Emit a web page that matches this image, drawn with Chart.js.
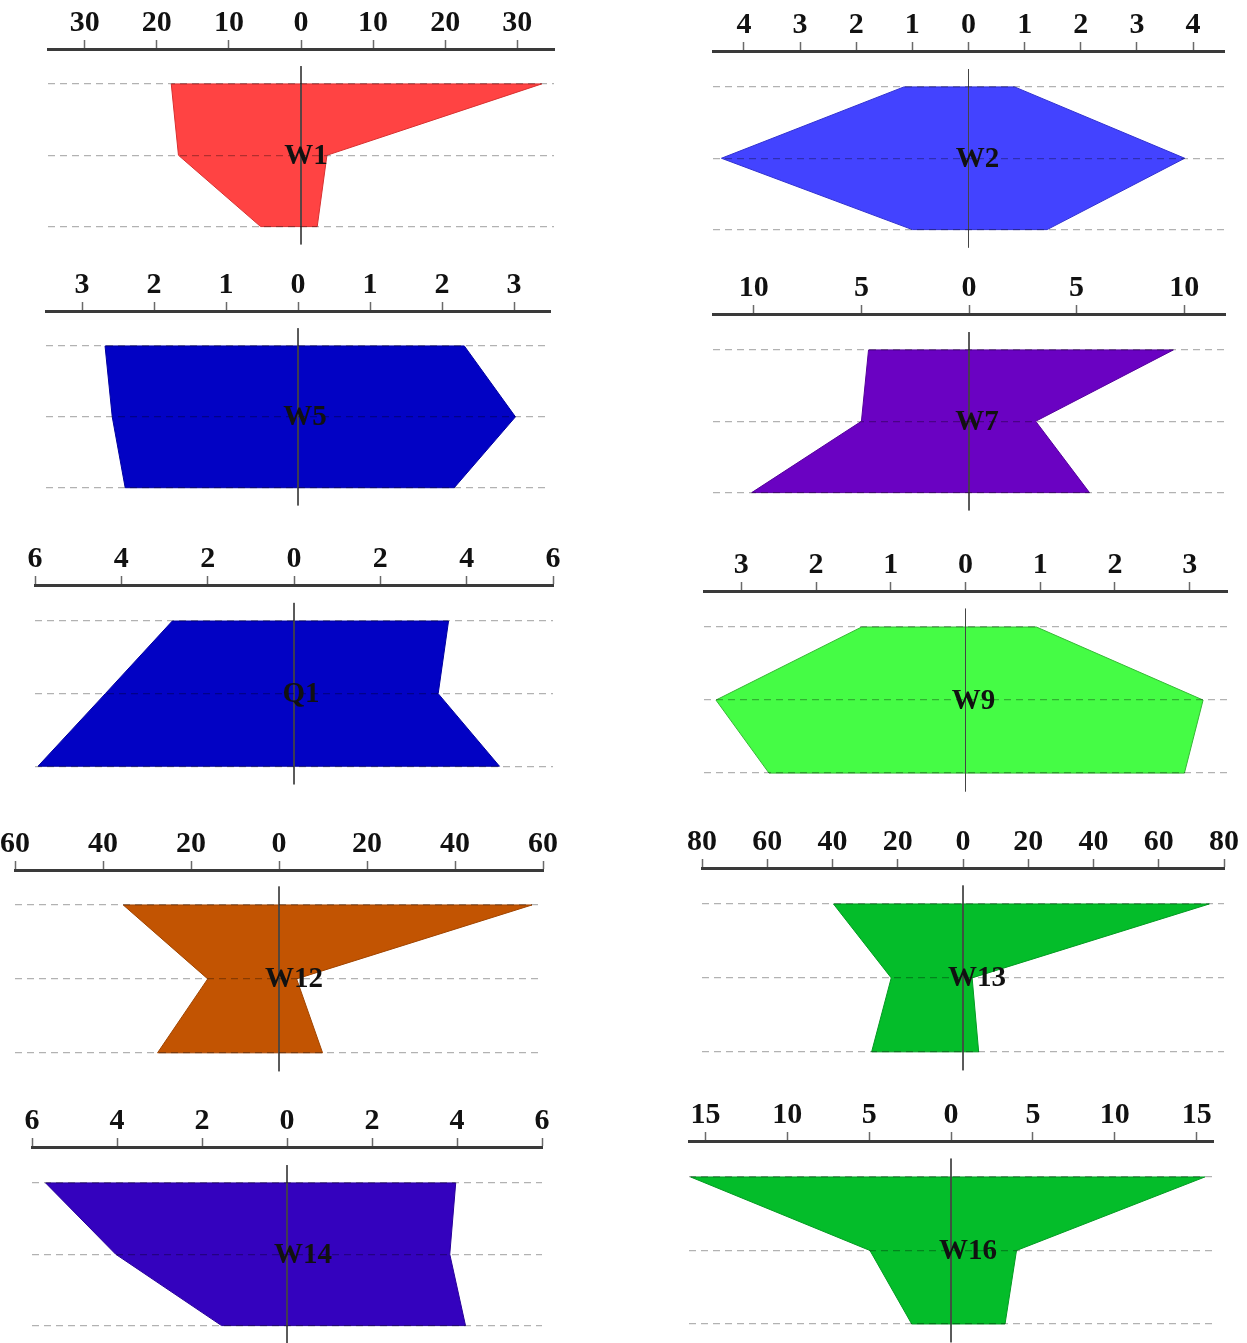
<!DOCTYPE html>
<html>
<head>
<meta charset="utf-8">
<title>Stiff diagrams</title>
<script src="https://cdn.jsdelivr.net/npm/chart.js@4.4.1/dist/chart.umd.min.js"></script>
<style>
  html, body { margin: 0; padding: 0; background: #ffffff; }
  body { width: 1247px; height: 1343px; position: relative; overflow: hidden; }
  .panel { position: absolute; }
</style>
</head>
<body>
<div id="root"></div>
<script>
// Sample names, one Stiff diagram each
const sampleNames = ['W1', 'W2', 'W5', 'W7', 'Q1', 'W9', 'W12', 'W13', 'W14', 'W16'];

// Left half of each polygon (top, middle, bottom row), plotted to the left of zero
const leftTop    = [18.0, 1.15, 2.68, 4.67, 2.82, 1.39, 35.4, 39.7, 5.68, 15.9];
const leftMid    = [17.0, 4.40, 2.58, 5.00, 4.37, 3.34, 16.2, 22.0, 4.03, 4.95];
const leftBottom = [5.6,  1.00, 2.40, 10.1, 5.93, 2.63, 27.6, 28.0, 1.54, 2.40];

// Right half of each polygon (top, middle, bottom row)
const rightTop    = [33.4, 0.82, 2.31, 9.5, 3.58, 0.95, 57.5, 75.5, 3.97, 15.5];
const rightMid    = [3.6,  3.85, 3.02, 3.1, 3.34, 3.18, 4.0,  2.8,  3.83, 4.0];
const rightBottom = [2.25, 1.40, 2.17, 5.6, 4.76, 2.93, 9.9,  4.8,  4.20, 3.3];

// Axis half-range of every panel
const axisLimits = [35.1, 4.55, 3.5, 11.9, 6, 3.5, 60, 80, 6, 16];

// Tick values along the top axis (labels show the absolute value)
const tickValues = [
  [-30, -20, -10, 0, 10, 20, 30],
  [-4, -3, -2, -1, 0, 1, 2, 3, 4],
  [-3, -2, -1, 0, 1, 2, 3],
  [-10, -5, 0, 5, 10],
  [-6, -4, -2, 0, 2, 4, 6],
  [-3, -2, -1, 0, 1, 2, 3],
  [-60, -40, -20, 0, 20, 40, 60],
  [-80, -60, -40, -20, 0, 20, 40, 60, 80],
  [-6, -4, -2, 0, 2, 4, 6],
  [-15, -10, -5, 0, 5, 10, 15]
];

// Fill colour per panel
const fillColors = ['#ff4343', '#4343ff', '#0202c4', '#6a02c2', '#0202c4',
                    '#45fc45', '#c25402', '#04bd2a', '#3402be', '#04bd2a'];
const edgeColors = ['#d83030', '#3030d0', '#0000a0', '#55009c', '#0000a0',
                    '#35b835', '#a04400', '#039a22', '#28009a', '#039a22'];

// Page placement of each panel: axis span, axis line height, first and last row
const panelBoxes = [
  { left: 48,  right: 554,  axisY: 49,   row0: 84,   row2: 227,  labelDx: 5 },
  { left: 713, right: 1224, axisY: 51,   row0: 87,   row2: 230,  labelDx: 9 },
  { left: 46,  right: 550,  axisY: 311,  row0: 346,  row2: 488,  labelDx: 7 },
  { left: 713, right: 1225, axisY: 314,  row0: 350,  row2: 493,  labelDx: 8 },
  { left: 35,  right: 553,  axisY: 585,  row0: 621,  row2: 766,  labelDx: 7 },
  { left: 704, right: 1227, axisY: 591,  row0: 627,  row2: 773,  labelDx: 8 },
  { left: 15,  right: 543,  axisY: 870,  row0: 905,  row2: 1053, labelDx: 15 },
  { left: 702, right: 1224, axisY: 868,  row0: 904,  row2: 1052, labelDx: 14 },
  { left: 32,  right: 542,  axisY: 1147, row0: 1183, row2: 1326, labelDx: 16 },
  { left: 689, right: 1213, axisY: 1141, row0: 1177, row2: 1324, labelDx: 17 }
];

const SERIF = '"Liberation Serif", "Times New Roman", serif';
const PAD_X = 30;
const HEAD_H = 52;

// Draws the sample name in the middle row, just right of the zero line
const nameLabel = {
  id: 'nameLabel',
  afterDraw(chart, args, opts) {
    const ctx = chart.ctx;
    const x = chart.scales.x.getPixelForValue(0) + opts.dx;
    const y = chart.scales.y.getPixelForValue(1);
    ctx.save();
    ctx.font = 'bold 29px ' + SERIF;
    ctx.fillStyle = '#111111';
    ctx.textAlign = 'center';
    ctx.textBaseline = 'middle';
    ctx.fillText(opts.text, x, y + 1);
    ctx.restore();
  }
};

const root = document.getElementById('root');

sampleNames.forEach((name, i) => {
  const box = panelBoxes[i];
  const spacing = (box.row2 - box.row0) / 2;
  const yMin = -(box.row0 - box.axisY) / spacing;
  const yMax = 2.3;
  const areaH = (yMax - yMin) * spacing;
  const width = box.right - box.left + 2 * PAD_X;
  const height = Math.round(HEAD_H + areaH);

  const holder = document.createElement('div');
  holder.className = 'panel';
  holder.style.left = (box.left - PAD_X) + 'px';
  holder.style.top = (box.axisY - HEAD_H) + 'px';
  const canvas = document.createElement('canvas');
  canvas.width = width;
  canvas.height = height;
  canvas.style.width = width + 'px';
  canvas.style.height = height + 'px';
  holder.appendChild(canvas);
  root.appendChild(holder);

  // Closed outline: left side top→bottom, then right side bottom→top
  const outline = [
    { x: -leftTop[i], y: 0 },
    { x: -leftMid[i], y: 1 },
    { x: -leftBottom[i], y: 2 },
    { x: rightBottom[i], y: 2 },
    { x: rightMid[i], y: 1 },
    { x: rightTop[i], y: 0 },
    { x: -leftTop[i], y: 0 }
  ];
  const ticks = tickValues[i];
  const lim = axisLimits[i];

  new Chart(canvas, {
    type: 'scatter',
    data: {
      datasets: [
        {
          // vertical zero line
          data: [{ x: 0, y: -0.25 }, { x: 0, y: 2.25 }],
          showLine: true,
          borderColor: '#444444',
          borderWidth: 1,
          pointRadius: 0,
          fill: false
        },
        {
          data: outline,
          showLine: true,
          borderColor: edgeColors[i],
          borderWidth: 1,
          backgroundColor: fillColors[i],
          pointRadius: 0,
          tension: 0,
          fill: 'shape'
        }
      ]
    },
    options: {
      responsive: false,
      animation: false,
      devicePixelRatio: 1,
      layout: { padding: { left: PAD_X, right: PAD_X, top: 0, bottom: 0 } },
      plugins: {
        legend: { display: false },
        tooltip: { enabled: false },
        nameLabel: { text: name, dx: box.labelDx }
      },
      scales: {
        x: {
          type: 'linear',
          position: 'top',
          min: -lim,
          max: lim,
          afterBuildTicks: s => { s.ticks = ticks.map(v => ({ value: v })); },
          afterFit: s => { s.height = HEAD_H; },
          ticks: {
            callback: v => String(Math.abs(v)),
            font: { family: SERIF, size: 30, weight: 'bold', lineHeight: 1 },
            color: '#111111',
            padding: 2,
            maxRotation: 0,
            autoSkip: false
          },
          grid: {
            display: true,
            drawOnChartArea: false,
            drawTicks: true,
            tickLength: 9,
            tickColor: '#6a6a6a',
            tickWidth: 1.5
          },
          border: { display: true, color: '#3a3a3a', width: 3 }
        },
        y: {
          type: 'linear',
          reverse: true,
          min: yMin,
          max: yMax,
          afterBuildTicks: s => { s.ticks = [0, 1, 2].map(v => ({ value: v })); },
          afterFit: s => { s.width = 0; },
          ticks: { display: false },
          grid: {
            color: 'rgba(0,0,0,0.3)',
            lineWidth: 1.3,
            drawTicks: false,
            tickLength: 0,
            z: 1
          },
          border: { display: false, dash: [7, 5] }
        }
      }
    },
    plugins: [nameLabel]
  });
});
</script>
</body>
</html>
